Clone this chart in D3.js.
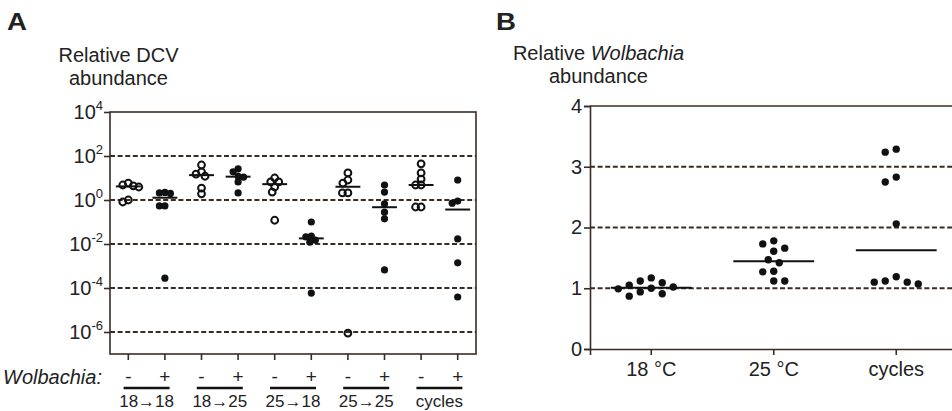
<!DOCTYPE html>
<html><head><meta charset="utf-8">
<script src="https://cdn.jsdelivr.net/npm/d3@7"></script>
<style>
body{margin:0;background:#fff}
text{font-family:Arial,"Liberation Sans",sans-serif;fill:#222}
</style>
</head><body>
<svg id="c" width="952" height="411"></svg>
<script>
// ---------- Panel A data ----------
const dcvGroups = ["18→18", "18→25", "25→18", "25→25", "cycles"];
const dcvWolbachia = ["-", "+"];
const dcvTickExponents = [4, 2, 0, -2, -4, -6];
const dcvGridExponents = [2, 0, -2, -4, -6];
const dcvOpenMarker = [true, false, true, false, true, false, true, false, true, false];
const dcv_18_18_minus = [5.9, 4.8, 4.4, 3.9, 1.0, 0.81];
const dcv_18_18_plus  = [2.2, 2.1, 2.0, 0.54, 0.54, 0.00028];
const dcv_18_25_minus = [39, 19, 15, 12, 3.5, 1.9];
const dcv_18_25_plus  = [26, 19, 12, 11, 6.6, 2.1];
const dcv_25_18_minus = [10, 6.6, 6.6, 3.9, 2.3, 0.12];
const dcv_25_18_plus  = [0.1, 0.023, 0.021, 0.015, 0.012, 0.000059];
const dcv_25_25_minus = [17, 8.1, 5.9, 2.1, 2.1, 0.00000089];
const dcv_25_25_plus  = [4.8, 2.3, 0.66, 0.28, 0.14, 0.00066];
const dcv_cycles_minus = [44, 17, 8.9, 4.8, 4.8, 0.48, 0.48];
const dcv_cycles_plus  = [8.1, 0.89, 0.72, 0.017, 0.0014, 0.000039];

// ---------- Panel B data ----------
const wolCategories = ["18 °C", "25 °C", "cycles"];
const wolTicks = [0, 1, 2, 3, 4];
const wolGrid = [1, 2, 3];
const wol_18 = [1.17, 1.0, 1.09, 0.94, 1.05, 0.87, 1.12, 0.91, 0.99, 1.02];
const wol_25 = [1.73, 1.61, 1.66, 1.78, 1.47, 1.42, 1.27, 1.28, 1.12, 1.12];
const wol_cycles = [3.29, 3.24, 2.75, 2.83, 2.06, 1.19, 1.10, 1.07, 1.10, 1.12];

const dcvColumns = [dcv_18_18_minus, dcv_18_18_plus, dcv_18_25_minus, dcv_18_25_plus,
  dcv_25_18_minus, dcv_25_18_plus, dcv_25_25_minus, dcv_25_25_plus, dcv_cycles_minus, dcv_cycles_plus];
const wolColumns = [wol_18, wol_25, wol_cycles];

const LINE = "#3a2c25", DOT = "#111";
const FONT = "Arial,'Liberation Sans',sans-serif";
const svg = d3.select("#c");

// beeswarm placement: minimum centre distance d, horizontal step s
function swarm(vals, yFn, cx, d, s) {
  const pts = vals.map(v => ({v, y: yFn(v)})).sort((a, b) => a.y - b.y);
  const placed = [];
  for (const p of pts) {
    let best = 0;
    for (let k = 0; k < 400; k++) {
      const off = (k % 2 === 0 ? 1 : -1) * Math.ceil(k / 2) * s;
      const ok = placed.every(q => Math.hypot(q.x - (cx + off), q.y - p.y) >= d);
      if (ok) { best = off; break; }
    }
    p.x = cx + best;
    placed.push(p);
  }
  return placed;
}

// ================= Panel A =================
{
  const left = 110, right = 476, top = 112, bottom = 354;
  const keys = d3.range(dcvColumns.length);
  const x = d3.scaleBand().domain(keys).range([left, right]);
  const y = d3.scaleLog().domain([1e-7, 1e4]).range([bottom, top]);
  const g = svg.append("g");

  g.selectAll(".grid").data(dcvGridExponents).join("line")
    .attr("x1", left).attr("x2", right)
    .attr("y1", e => y(Math.pow(10, e))).attr("y2", e => y(Math.pow(10, e)))
    .attr("stroke", LINE).attr("stroke-width", 2).attr("stroke-dasharray", "5,2.6");

  g.append("rect").attr("x", left).attr("y", top).attr("width", right - left).attr("height", bottom - top)
    .attr("fill", "none").attr("stroke", LINE).attr("stroke-width", 1.6);

  const yAxis = d3.axisLeft(y).tickValues(dcvTickExponents.map(e => Math.pow(10, e)))
    .tickSize(6).tickFormat("");
  const ya = g.append("g").attr("transform", `translate(${left},0)`).call(yAxis);
  ya.select(".domain").remove();
  ya.selectAll("line").attr("stroke", LINE).attr("stroke-width", 1.6);
  const lbl = g.selectAll(".ylab").data(dcvTickExponents).join("text")
    .attr("x", 103).attr("y", e => y(Math.pow(10, e)) + 7)
    .attr("text-anchor", "end").style("font-size", "20px");
  lbl.append("tspan").text("10");
  lbl.append("tspan").attr("dy", -9).style("font-size", "13px").text(e => String(e));

  const xa = g.append("g").attr("transform", `translate(0,${bottom})`)
    .call(d3.axisBottom(x).tickSize(6).tickFormat(""));
  xa.select(".domain").remove();
  xa.selectAll("line").attr("stroke", LINE).attr("stroke-width", 1.6);

  const cx = i => x(i) + x.bandwidth() / 2;
  dcvColumns.forEach((vals, i) => {
    const open = dcvOpenMarker[i];
    const pts = swarm(vals, v => y(v), cx(i), 5.5, 0.5);
    g.selectAll(null).data(pts).join("circle")
      .attr("cx", p => p.x).attr("cy", p => p.y).attr("r", open ? 3.4 : 3.6)
      .attr("fill", open ? "#fff" : DOT).attr("stroke", DOT).attr("stroke-width", open ? 2 : 0)
      .attr("fill-opacity", open ? 0 : 1);
    const med = d3.median(vals);
    g.append("line").attr("x1", cx(i) - x.bandwidth() * 0.34).attr("x2", cx(i) + x.bandwidth() * 0.34)
      .attr("y1", y(med)).attr("y2", y(med)).attr("stroke", DOT).attr("stroke-width", 2);
  });

  g.append("text").attr("x", 3).attr("y", 384).style("font-size", "20px").style("font-style", "italic")
    .text("Wolbachia:");
  keys.forEach(i => {
    g.append("text").attr("x", cx(i)).attr("y", 383).attr("text-anchor", "middle")
      .style("font-size", "19px").text(dcvWolbachia[i % 2]);
  });
  dcvGroups.forEach((grp, j) => {
    const c = (cx(2 * j) + cx(2 * j + 1)) / 2;
    g.append("line").attr("x1", c - 23).attr("x2", c + 23).attr("y1", 388).attr("y2", 388)
      .attr("stroke", "#111").attr("stroke-width", 2.6);
    g.append("text").attr("x", c).attr("y", 407).attr("text-anchor", "middle")
      .style("font-size", "17px").text(grp);
  });

  svg.append("text").attr("x", 7).attr("y", 30).style("font-size", "24px").style("font-weight", "bold")
    .attr("transform", "translate(7,0) scale(1.15,1) translate(-7,0)").text("A");
  svg.append("text").attr("x", 118.5).attr("y", 62).attr("text-anchor", "middle").style("font-size", "20px").text("Relative DCV");
  svg.append("text").attr("x", 118.5).attr("y", 85).attr("text-anchor", "middle").style("font-size", "20px").text("abundance");
}

// ================= Panel B =================
{
  const left = 590, right = 957.5, top = 106, bottom = 349;
  const x = d3.scaleBand().domain(wolCategories).range([left, right]);
  const y = d3.scaleLinear().domain([0, 4]).range([bottom, top]);
  const g = svg.append("g");

  g.selectAll(".grid").data(wolGrid).join("line")
    .attr("x1", left).attr("x2", right).attr("y1", d => y(d)).attr("y2", d => y(d))
    .attr("stroke", LINE).attr("stroke-width", 2).attr("stroke-dasharray", "5,2.6");

  g.append("line").attr("x1", left).attr("x2", right).attr("y1", top).attr("y2", top)
    .attr("stroke", LINE).attr("stroke-width", 1.6);

  const ya = g.append("g").attr("transform", `translate(${left},0)`)
    .call(d3.axisLeft(y).tickValues(wolTicks).tickSize(6).tickFormat(d3.format("d")));
  ya.select(".domain").attr("stroke", LINE).attr("stroke-width", 1.6);
  ya.selectAll("line").attr("stroke", LINE).attr("stroke-width", 1.6);
  ya.selectAll("text").style("font-size", "20px").style("font-family", FONT).attr("fill", "#222").attr("x", -8);

  const xa = g.append("g").attr("transform", `translate(0,${bottom})`)
    .call(d3.axisBottom(x).tickSize(6).tickPadding(7));
  xa.select(".domain").attr("stroke", LINE).attr("stroke-width", 1.6);
  xa.selectAll("line").attr("stroke", LINE).attr("stroke-width", 1.6);
  xa.selectAll("text").style("font-size", "20px").style("font-family", FONT).attr("fill", "#222");

  wolColumns.forEach((vals, i) => {
    const c = x(wolCategories[i]) + x.bandwidth() / 2;
    const pts = swarm(vals, v => y(v), c, 9.5, 5.5);
    g.selectAll(null).data(pts).join("circle")
      .attr("cx", p => p.x).attr("cy", p => p.y).attr("r", 3.7).attr("fill", DOT);
    const med = d3.median(vals);
    g.append("line").attr("x1", c - x.bandwidth() * 0.33).attr("x2", c + x.bandwidth() * 0.33)
      .attr("y1", y(med)).attr("y2", y(med)).attr("stroke", DOT).attr("stroke-width", 2);
  });

  svg.append("text").attr("x", 496).attr("y", 30).style("font-size", "24px").style("font-weight", "bold")
    .attr("transform", "translate(496,0) scale(1.15,1) translate(-496,0)").text("B");
  const t = svg.append("text").attr("x", 598.5).attr("y", 60).attr("text-anchor", "middle").style("font-size", "20px");
  t.append("tspan").text("Relative ");
  t.append("tspan").style("font-style", "italic").text("Wolbachia");
  svg.append("text").attr("x", 598.5).attr("y", 83).attr("text-anchor", "middle").style("font-size", "20px").text("abundance");
}
</script>
</body></html>
